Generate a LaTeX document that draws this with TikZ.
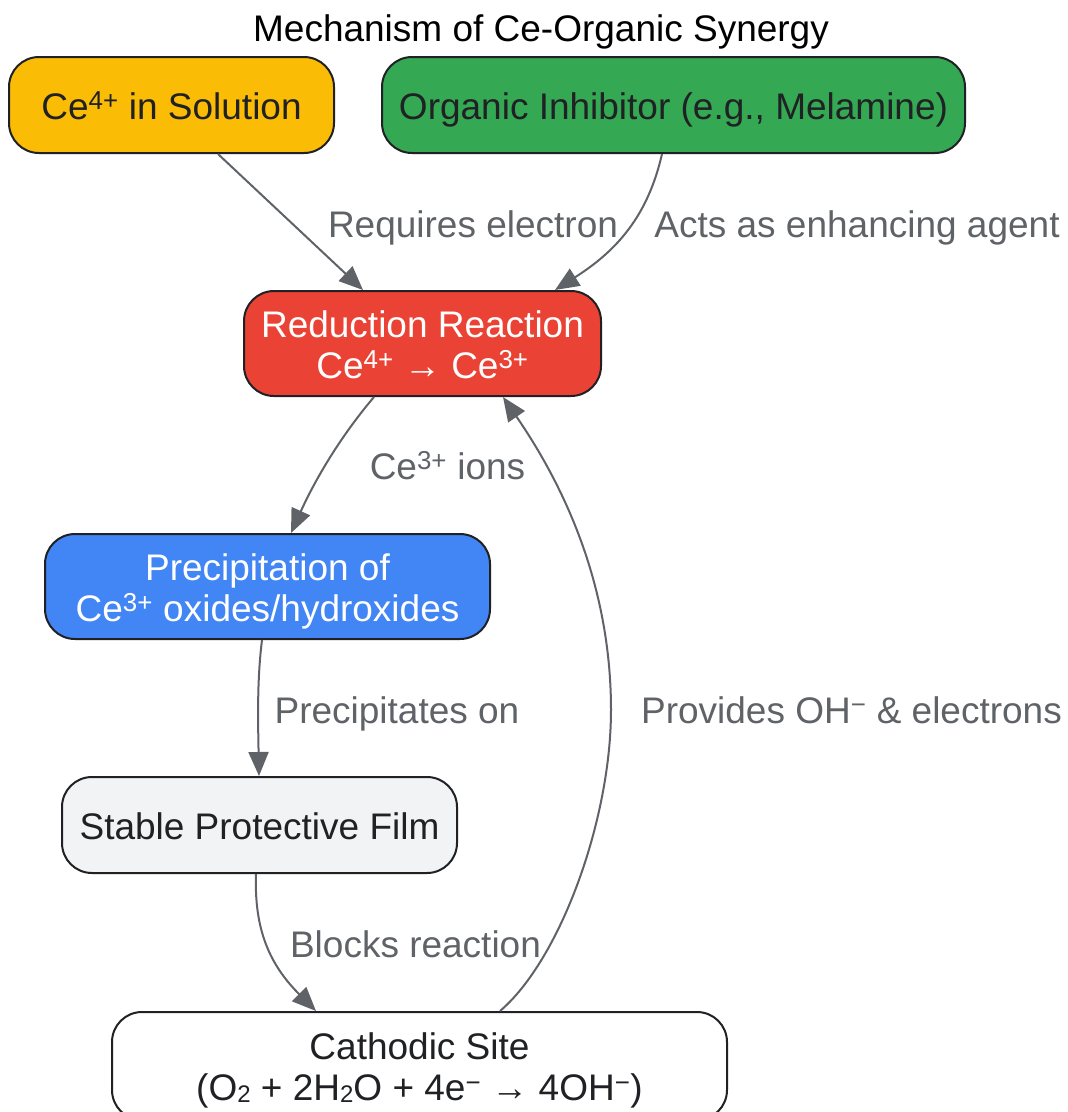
\documentclass[tikz,border=0pt]{standalone}
\usepackage{fontspec}
\setmainfont{Liberation Sans}
\usetikzlibrary{arrows.meta}
\definecolor{cyel}{HTML}{FBBC05}
\definecolor{cgrn}{HTML}{34A853}
\definecolor{cred}{HTML}{EA4335}
\definecolor{cblu}{HTML}{4285F4}
\definecolor{cgry}{HTML}{F1F3F4}
\definecolor{edgec}{HTML}{5F6368}
\definecolor{txtd}{HTML}{202124}
\newcommand{\bigfont}{\fontsize{37}{41}\selectfont}
\newcommand{\subtwo}{\raisebox{-2pt}{\fontsize{24}{24}\selectfont 2}}
\begin{document}
\begin{tikzpicture}[x=1pt,y=-1pt,
  box/.style={draw=txtd, line width=2pt, rounded corners=30pt, align=center, font=\bigfont, text=txtd, inner sep=0pt, text height=31pt, text depth=3pt},
  box2/.style={box, text height=72pt, text depth=3pt},
  lbl/.style={text=edgec, font=\bigfont, inner sep=0pt, anchor=base},
  conn/.style={draw=edgec, line width=2pt, -{Triangle[length=24pt,width=20pt,fill=edgec]}}]
\useasboundingbox (0,0) rectangle (1068,1112);
\node[text=black, font=\bigfont, inner sep=0pt, anchor=base] (title) at (541,41) {Mechanism of Ce-Organic Synergy};
\node[box, fill=cyel, minimum width=325pt, minimum height=96pt] (ce4) at (171.5,105) {Ce\textsuperscript{4+} in Solution};
\node[box, fill=cgrn, minimum width=583pt, minimum height=96pt] (org) at (673.5,105) {Organic Inhibitor (e.g., Melamine)};
\node[box2, fill=cred, text=white, minimum width=357pt, minimum height=105pt] (red) at (422.5,343.5) {Reduction Reaction\\Ce\textsuperscript{4+} → Ce\textsuperscript{3+}};
\node[box2, fill=cblu, text=white, minimum width=445pt, minimum height=105pt] (prec) at (267.5,586.5) {Precipitation of\\Ce\textsuperscript{3+} oxides/hydroxides};
\node[box, fill=cgry, minimum width=395pt, minimum height=96pt] (film) at (259.5,825) {Stable Protective Film};
\node[box2, fill=white, minimum width=615pt, minimum height=108pt] (cath) at (419.5,1066) {Cathodic Site\\(O\subtwo{} + 2H\subtwo{}O + 4e\textsuperscript{−} → 4OH\textsuperscript{−})};

\draw[conn] ([xshift=46.5pt]ce4.south) -- ([xshift=-59.5pt]red.north);
\draw[conn] ([xshift=-11.5pt]org.south) .. controls (648,215) and (618,250) .. ([xshift=132.5pt]red.north);
\draw[conn] ([xshift=-48.5pt]red.south) .. controls (340,437) and (315,480) .. ([xshift=23.5pt]prec.north);
\draw[conn] ([xshift=-5.5pt]prec.south) .. controls (257,680) and (258,720) .. ([xshift=-0.5pt]film.north);
\draw[conn] ([xshift=-3.5pt]film.south) .. controls (254,930) and (270,965) .. ([xshift=-103.5pt]cath.north);
\draw[conn] ([xshift=80.5pt]cath.north) .. controls (560,960) and (611,820) .. (611,710) .. controls (611,580) and (560,480) .. ([xshift=80.5pt]red.south);

\node[lbl] (l1) at (473,237) {Requires electron};
\node[lbl] (l2) at (857,237) {Acts as enhancing agent};
\node[lbl] (l3) at (447.5,479) {Ce\textsuperscript{3+} ions};
\node[lbl] (l4) at (397,723) {Precipitates on};
\node[lbl] (l5) at (415.5,957) {Blocks reaction};
\node[lbl] (l6) at (851.5,723) {Provides OH\textsuperscript{−} \& electrons};
\end{tikzpicture}
\end{document}
